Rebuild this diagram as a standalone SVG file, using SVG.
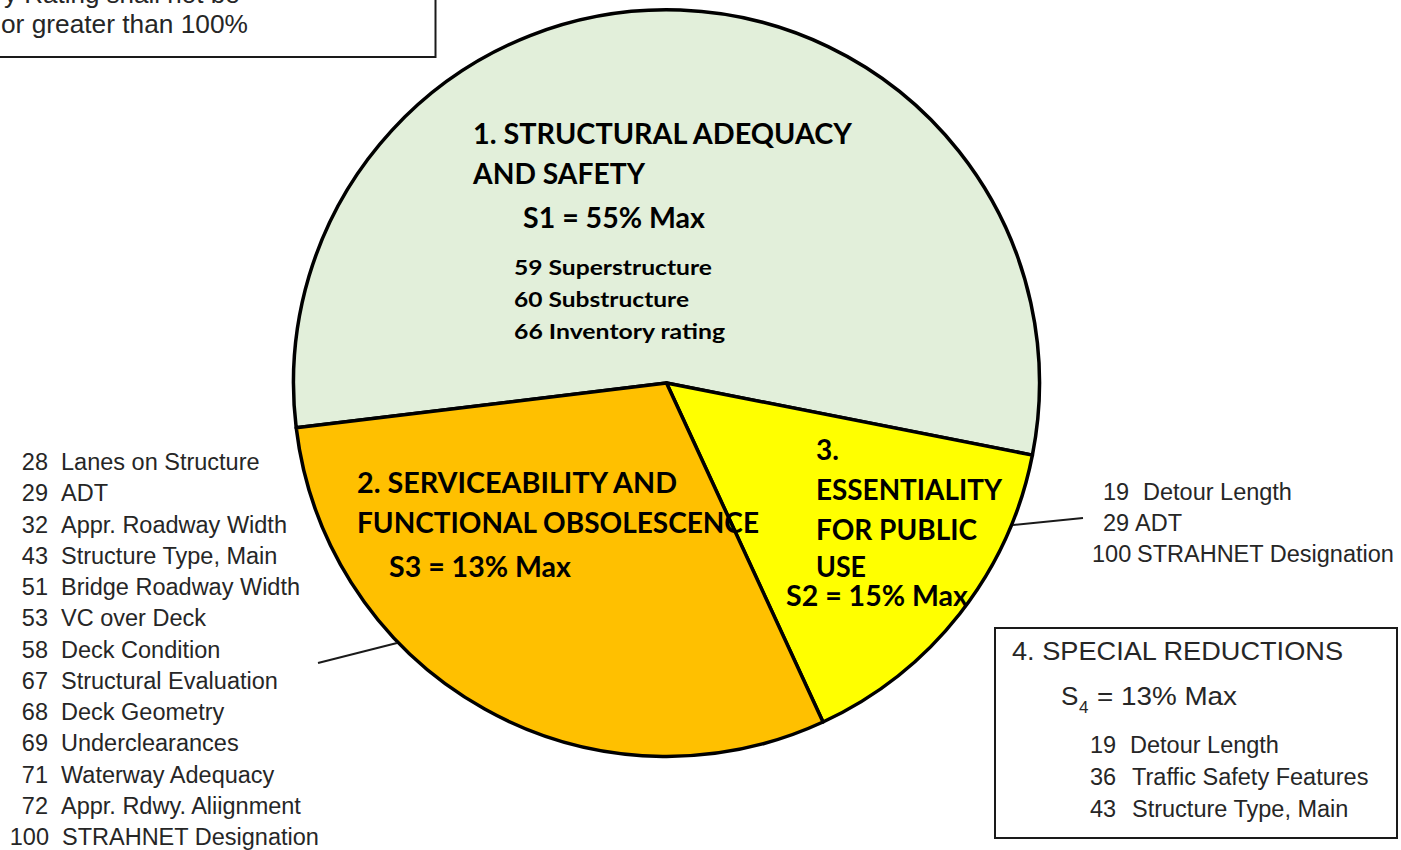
<svg xmlns="http://www.w3.org/2000/svg" width="1401" height="850" viewBox="0 0 1401 850">
  <style>
    .slice { stroke: #000; stroke-width: 3.5; stroke-linejoin: round; }
    .head { font-family: Lato, "Open Sans", sans-serif; font-weight: 700; font-size: 28px; fill: #000; }
    .item { font-family: Lato, "Open Sans", sans-serif; font-weight: 700; font-size: 21px; fill: #000; }
    .list { font-family: "Liberation Sans", Arial, sans-serif; font-size: 23.5px; fill: #262626; }
    .big { font-size: 26px; }
    .box { fill: #fff; stroke: #1a1a1a; stroke-width: 2; }
    .conn { stroke: #1a1a1a; stroke-width: 2; fill: none; }
  </style>

  <rect width="1401" height="850" fill="#fff"/>

  <!-- note box, partly off the top-left edge -->
  <g id="note">
    <rect class="box" x="-10" y="-10" width="445.5" height="67" stroke-width="1.5"/>
    <text class="list big" x="4" y="3">y Rating shall not be</text>
    <text class="list big" x="1" y="33" textLength="247" lengthAdjust="spacingAndGlyphs">or greater than 100%</text>
  </g>

  <!-- pie: centre (666.5, 383), r = 373 -->
  <g id="slice-structural">
    <path class="slice" fill="#E2EFDA" d="M666.5,383 L296.2,427.8 A373,373 0 1 1 1032.4,455.1 Z"/>
    <text class="head" x="473" y="144" textLength="379" lengthAdjust="spacingAndGlyphs">1. STRUCTURAL ADEQUACY</text>
    <text class="head" x="473" y="184" textLength="172" lengthAdjust="spacingAndGlyphs">AND SAFETY</text>
    <text class="head" x="523" y="228" textLength="182" lengthAdjust="spacingAndGlyphs">S1 = 55% Max</text>
    <text class="item" x="514" y="275" textLength="198" lengthAdjust="spacingAndGlyphs">59 Superstructure</text>
    <text class="item" x="514" y="307" textLength="175" lengthAdjust="spacingAndGlyphs">60 Substructure</text>
    <text class="item" x="514" y="339" textLength="211" lengthAdjust="spacingAndGlyphs">66 Inventory rating</text>
  </g>

  <g id="slice-essentiality">
    <path class="slice" fill="#FFFF00" d="M666.5,383 L1032.4,455.1 A373,373 0 0 1 823,722 Z"/>
  </g>

  <g id="slice-serviceability">
    <path class="slice" fill="#FFC000" d="M666.5,383 L823,722 A373,373 0 0 1 296.2,427.8 Z"/>
    <text class="head" x="357" y="493" textLength="320" lengthAdjust="spacingAndGlyphs">2. SERVICEABILITY AND</text>
    <text class="head" x="357" y="533" textLength="402" lengthAdjust="spacingAndGlyphs">FUNCTIONAL OBSOLESCENCE</text>
    <text class="head" x="389" y="577" textLength="182" lengthAdjust="spacingAndGlyphs">S3 = 13% Max</text>
  </g>

  <g id="label-essentiality">
    <text class="head" x="816" y="460">3.</text>
    <text class="head" x="816" y="500" textLength="186" lengthAdjust="spacingAndGlyphs">ESSENTIALITY</text>
    <text class="head" x="816" y="540" textLength="161" lengthAdjust="spacingAndGlyphs">FOR PUBLIC</text>
    <text class="head" x="816" y="577" textLength="50" lengthAdjust="spacingAndGlyphs">USE</text>
    <text class="head" x="786" y="606" textLength="182" lengthAdjust="spacingAndGlyphs">S2 = 15% Max</text>
  </g>

  <!-- items feeding slice 2 -->
  <g id="list-serviceability" class="list">
    <text text-anchor="end" x="48" y="470">28</text><text x="61" y="470">Lanes on Structure</text>
    <text text-anchor="end" x="48" y="501">29</text><text x="61" y="501">ADT</text>
    <text text-anchor="end" x="48" y="532.5">32</text><text x="61" y="532.5">Appr. Roadway Width</text>
    <text text-anchor="end" x="48" y="564">43</text><text x="61" y="564">Structure Type, Main</text>
    <text text-anchor="end" x="48" y="595">51</text><text x="61" y="595">Bridge Roadway Width</text>
    <text text-anchor="end" x="48" y="626">53</text><text x="61" y="626">VC over Deck</text>
    <text text-anchor="end" x="48" y="657.5">58</text><text x="61" y="657.5">Deck Condition</text>
    <text text-anchor="end" x="48" y="689">67</text><text x="61" y="689">Structural Evaluation</text>
    <text text-anchor="end" x="48" y="720">68</text><text x="61" y="720">Deck Geometry</text>
    <text text-anchor="end" x="48" y="751">69</text><text x="61" y="751">Underclearances</text>
    <text text-anchor="end" x="48" y="782.5">71</text><text x="61" y="782.5">Waterway Adequacy</text>
    <text text-anchor="end" x="48" y="814">72</text><text x="61" y="814">Appr. Rdwy. Aliignment</text>
    <text text-anchor="end" x="49" y="845">100</text><text x="62" y="845">STRAHNET Designation</text>
  </g>

  <!-- items feeding slice 3 -->
  <g id="list-essentiality" class="list">
    <text x="1103" y="500">19</text><text x="1143" y="500">Detour Length</text>
    <text x="1103" y="531">29</text><text x="1135" y="531">ADT</text>
    <text x="1092" y="562">100</text><text x="1137" y="562">STRAHNET Designation</text>
  </g>

  <!-- special reductions box -->
  <g id="special-reductions">
    <rect class="box" x="995" y="628" width="402" height="210" stroke="#000"/>
    <text class="list" x="1012" y="660" style="font-size:25px" textLength="331" lengthAdjust="spacingAndGlyphs">4. SPECIAL REDUCTIONS</text>
    <text class="list big" x="1061" y="705">S</text>
    <text class="list" x="1079" y="713" style="font-size:17px">4</text>
    <text class="list big" x="1097" y="705" textLength="140" lengthAdjust="spacingAndGlyphs">= 13% Max</text>
    <text class="list" x="1090" y="753">19</text><text x="1130" y="753" class="list">Detour Length</text>
    <text class="list" x="1090" y="785">36</text><text x="1132" y="785" class="list">Traffic Safety Features</text>
    <text class="list" x="1090" y="817">43</text><text x="1132" y="817" class="list">Structure Type, Main</text>
  </g>

  <g id="connectors">
    <line class="conn" x1="318" y1="663" x2="397" y2="643"/>
    <line class="conn" x1="1013" y1="525" x2="1083" y2="518"/>
  </g>
</svg>
